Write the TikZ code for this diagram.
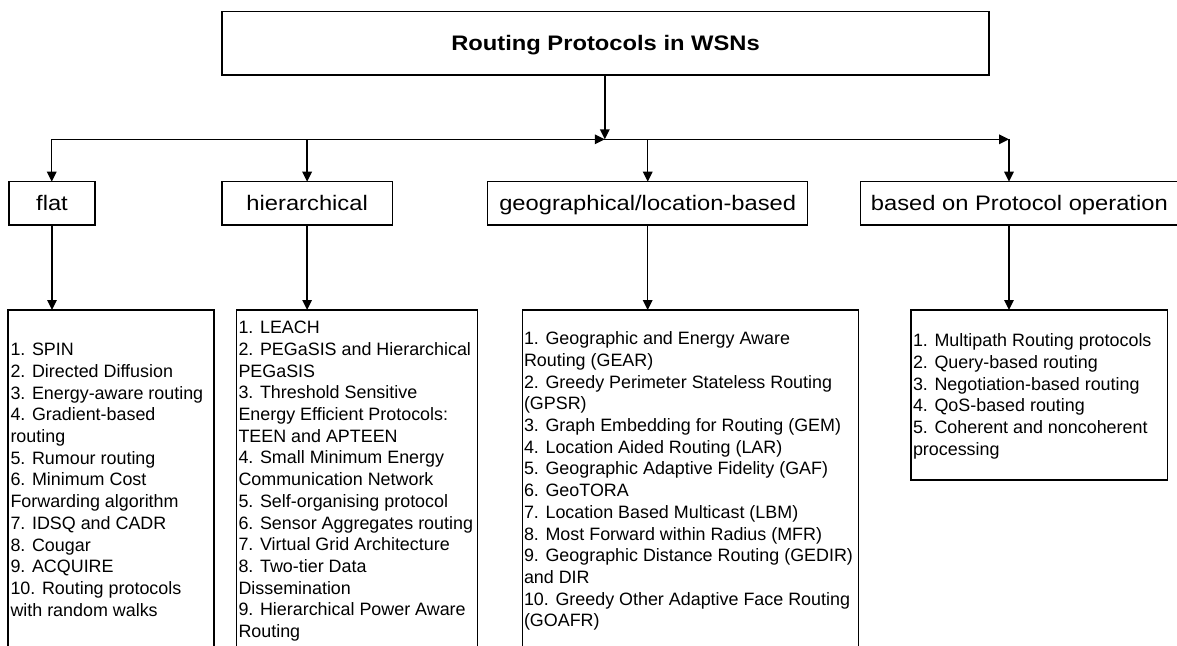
\documentclass[tikz,border=0pt]{standalone}
\usepackage{fontspec}
\setmainfont{Liberation Sans}
\newfontfamily\widefont[FakeStretch=1.13]{Liberation Sans}
\usetikzlibrary{arrows.meta}
\begin{document}
\begin{tikzpicture}[x=1pt,y=-1pt,
  every node/.style={inner sep=0pt, outer sep=0pt},
  frame/.style={draw=black, line width=1.5pt, rectangle, anchor=north west},
  headbox/.style={frame, text height=15pt, text depth=0pt, minimum height=43.3pt, font=\widefont\fontsize{21}{25}\selectfont},
  listbox/.style={frame},
  listtext/.style={anchor=north west, align=left, font=\fontsize{17.9}{21.67}\selectfont},
  arr/.style={line width=1.5pt, line cap=rect, -{Triangle[length=10pt,width=9.5pt]}}]
\useasboundingbox (0,0) rectangle (1177,645);
\fill[white] (0,0) rectangle (1177,645);
\clip (0,0) rectangle (1177,645);

% title
\node[frame, text height=15pt, text depth=0pt, minimum width=767pt, minimum height=63.3pt,
      font=\widefont\bfseries\fontsize{21}{25}\selectfont] (top) at (222,11.7) {Routing Protocols in WSNs};

% level 1
\node[headbox, minimum width=86pt]    (flat)  at (9,181.7)     {flat};
\node[headbox, minimum width=170.3pt] (hier)  at (222,181.7)   {hierarchical};
\node[headbox, minimum width=320pt]   (geo)   at (487.7,181.7) {geographical/location-based};
\node[headbox, minimum width=317.3pt] (based) at (860.7,181.7) {based on Protocol operation};

% level 2 frames
\node[listbox, minimum width=206pt, minimum height=400pt] (flatlist)  at (8,310) {};
\node[listbox, minimum width=241pt, minimum height=400pt] (hierlist)  at (236.7,310) {};
\node[listbox, minimum width=336pt, minimum height=400pt] (geolist)   at (522.3,310) {};
\node[listbox, minimum width=256.3pt, minimum height=170pt] (basedlist) at (911,310) {};

% level 2 texts
\node[listtext] (flattext) at (10.5,340.8) {\strut 1. SPIN\\2. Directed Diffusion\\3. Energy-aware routing\\4. Gradient-based\\routing\\5. Rumour routing\\6. Minimum Cost\\Forwarding algorithm\\7. IDSQ and CADR\\8. Cougar\\9. ACQUIRE\\10. Routing protocols\\with random walks};
\node[listtext] (hiertext) at (238.5,318.8) {\strut 1. LEACH\\2. PEGaSIS and Hierarchical\\PEGaSIS\\3. Threshold Sensitive\\Energy Efficient Protocols:\\TEEN and APTEEN\\4. Small Minimum Energy\\Communication Network\\5. Self-organising protocol\\6. Sensor Aggregates routing\\7. Virtual Grid Architecture\\8. Two-tier Data\\Dissemination\\9. Hierarchical Power Aware\\Routing};
\node[listtext] (geotext) at (524,329.8) {\strut 1. Geographic and Energy Aware\\Routing (GEAR)\\2. Greedy Perimeter Stateless Routing\\(GPSR)\\3. Graph Embedding for Routing (GEM)\\4. Location Aided Routing (LAR)\\5. Geographic Adaptive Fidelity (GAF)\\6. GeoTORA\\7. Location Based Multicast (LBM)\\8. Most Forward within Radius (MFR)\\9. Geographic Distance Routing (GEDIR)\\and DIR\\10. Greedy Other Adaptive Face Routing\\(GOAFR)};
\node[listtext] (basedtext) at (913,331.5) {\strut 1. Multipath Routing protocols\\2. Query-based routing\\3. Negotiation-based routing\\4. QoS-based routing\\5. Coherent and noncoherent\\processing};

% connectors
\coordinate (j)  at (604.8,139.3);
\coordinate (cl) at (51.7,139.3);
\coordinate (cr) at (1009,139.3);
\draw[arr] (top.south -| j) -- (j);
\draw[arr] (cl) -- (j);
\draw[arr] (j) -- (cr);
\draw[arr] (cl) -- (cl |- flat.north);
\draw[arr] (hier.north |- j) -- (hier.north);
\draw[arr] (geo.north |- j) -- (geo.north);
\draw[arr] (cr) -- (cr |- based.north);

\draw[arr] (flat.south) -- (flat.south |- flatlist.north);
\draw[arr] (hier.south) -- (hier.south |- hierlist.north);
\draw[arr] (geo.south) -- (geo.south |- geolist.north);
\draw[arr] (cr |- based.south) -- (cr |- basedlist.north);
\end{tikzpicture}
\end{document}
